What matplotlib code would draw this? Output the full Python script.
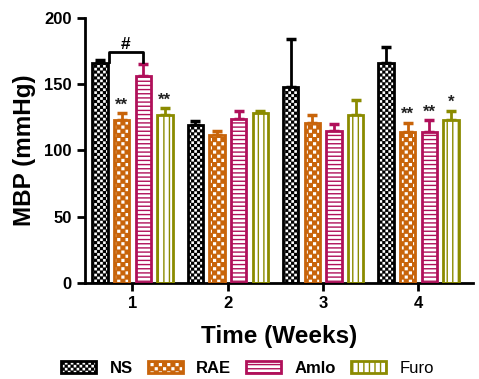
import warnings
warnings.filterwarnings("ignore")
import matplotlib
matplotlib.use("Agg")
import matplotlib.pyplot as plt
import matplotlib.hatch as mhatch
from matplotlib.path import Path
from matplotlib.patches import Patch
import numpy as np

plt.rcParams['font.family'] = ['Liberation Sans', 'DejaVu Sans']
DPI = 100
HATCH_LW = 1.0  # points
plt.rcParams['hatch.linewidth'] = HATCH_LW

weeks = [1, 2, 3, 4]
groups = ["NS", "RAE", "Amlo", "Furo"]
means = {
    "NS":   [166, 119, 148, 166],
    "RAE":  [123, 112, 121, 114],
    "Amlo": [156, 124, 115, 114],
    "Furo": [127, 128, 127, 123],
}
errs = {
    "NS":   [2, 3, 36, 12],
    "RAE":  [5, 3, 6, 7],
    "Amlo": [9, 6, 5, 9],
    "Furo": [5, 2, 11, 7],
}
stars = {
    "RAE":  ["**", "", "", "**"],
    "Amlo": ["", "", "", "**"],
    "Furo": ["**", "", "", "*"],
}


# --- custom checkerboard hatches -------------------------------------------
class _Checker(mhatch.HatchPatternBase):
    char = 'c'
    cells = 34        # cells per hatch tile (1 inch)
    gap_px = 0.0      # extra shrink of each square (px)

    def __init__(self, hatch, density):
        self.n = self.cells if self.char in hatch else 0
        self.num_vertices = (self.n * self.n // 2) * 5 if self.n else 0

    def set_vertices_and_codes(self, vertices, codes):
        n = self.n
        c = 1.0 / n
        stroke_px = HATCH_LW * DPI / 72.0
        d = (stroke_px / 2 + self.gap_px / 2) / DPI
        d = min(d, c * 0.45)
        k = 0
        for i in range(n):
            for j in range(n):
                if (i + j) % 2 == 0:
                    x0, y0 = i * c + d, j * c + d
                    x1, y1 = (i + 1) * c - d, (j + 1) * c - d
                    vertices[k:k + 5] = [[x0, y0], [x1, y0], [x1, y1],
                                         [x0, y1], [x0, y0]]
                    codes[k:k + 5] = [Path.MOVETO, Path.LINETO, Path.LINETO,
                                      Path.LINETO, Path.CLOSEPOLY]
                    k += 5


class CheckerFine(_Checker):
    char = 'c'
    cells = 34
    gap_px = 0.3


class CheckerBlock(_Checker):
    char = 'k'
    cells = 24
    gap_px = 1.0


mhatch._hatch_types.extend([CheckerFine, CheckerBlock])
# ---------------------------------------------------------------------------

face = {"NS": "black", "RAE": "#C8640A", "Amlo": "white", "Furo": "white"}
edge = {"NS": "black", "RAE": "#C8640A", "Amlo": "#B0105A", "Furo": "#8B8B00"}
hatchc = {"NS": "white", "RAE": "white", "Amlo": "#B0105A", "Furo": "#8B8B00"}
hatch = {"NS": "c", "RAE": "k", "Amlo": "----", "Furo": "|||"}

fig = plt.figure(figsize=(4.79, 3.79), dpi=DPI)
ax = fig.add_axes([0.177, 0.253, 0.81, 0.70])

x = np.array(weeks, dtype=float)
step = 0.227
width = 0.16
for i, g in enumerate(groups):
    xs = x + (i - 1.5) * step
    ax.errorbar(xs, means[g], yerr=[np.zeros(4), errs[g]], fmt='none',
                ecolor=edge[g], elinewidth=2, capsize=3.5, capthick=2.5, zorder=1)
    ax.bar(xs, means[g], width=width, color=face[g], edgecolor=hatchc[g],
           hatch=hatch[g], linewidth=0, zorder=2)
    ax.bar(xs, means[g], width=width, fill=False, edgecolor=edge[g],
           linewidth=2, zorder=3)
    if g in stars:
        for xi, m, e, s in zip(xs, means[g], errs[g], stars[g]):
            if s:
                ax.text(xi, m + e + 0.5, s, ha='center', va='bottom',
                        fontsize=12, fontweight='bold', color='#222222')

# '#' bracket between NS and Amlo at week 1
x_ns = x[0] - 1.5 * step
x_am = x[0] + 0.5 * step
yb = 174
ax.plot([x_ns + 0.09, x_ns + 0.09, x_am, x_am], [yb - 7, yb, yb, yb - 7],
        color='black', lw=2, zorder=4)
ax.text((x_ns + 0.09 + x_am) / 2, yb, "#", ha='center', va='bottom',
        fontsize=12.5, fontweight='bold')

ax.set_xlim(0.5, 4.57)
ax.set_ylim(0, 200)
ax.set_xticks(weeks)
ax.set_yticks([0, 50, 100, 150, 200])
ax.spines['top'].set_visible(False)
ax.spines['right'].set_visible(False)
for s in ['left', 'bottom']:
    ax.spines[s].set_linewidth(2)
ax.tick_params(width=2, length=6, labelsize=12)
for lab in ax.get_xticklabels() + ax.get_yticklabels():
    lab.set_fontweight('bold')
ax.set_ylabel("MBP (mmHg)", fontsize=17.5, fontweight='bold', labelpad=6)
ax.set_xlabel("Time (Weeks)", fontsize=17.5, fontweight='bold', labelpad=10)

handles = [Patch(facecolor=face[g], edgecolor=hatchc[g], hatch=hatch[g],
                 linewidth=0) for g in groups]
handles2 = [Patch(fill=False, edgecolor=edge[g], linewidth=2) for g in groups]
leg = fig.legend(list(zip(handles, handles2)), groups, loc='lower center',
                 bbox_to_anchor=(0.517, -0.032), ncol=4, frameon=False,
                 fontsize=12, handlelength=2.1, handleheight=0.75,
                 columnspacing=0.9, handletextpad=0.8)
for t in leg.get_texts()[:3]:
    t.set_fontweight('bold')

fig.savefig("out.png", dpi=DPI)
